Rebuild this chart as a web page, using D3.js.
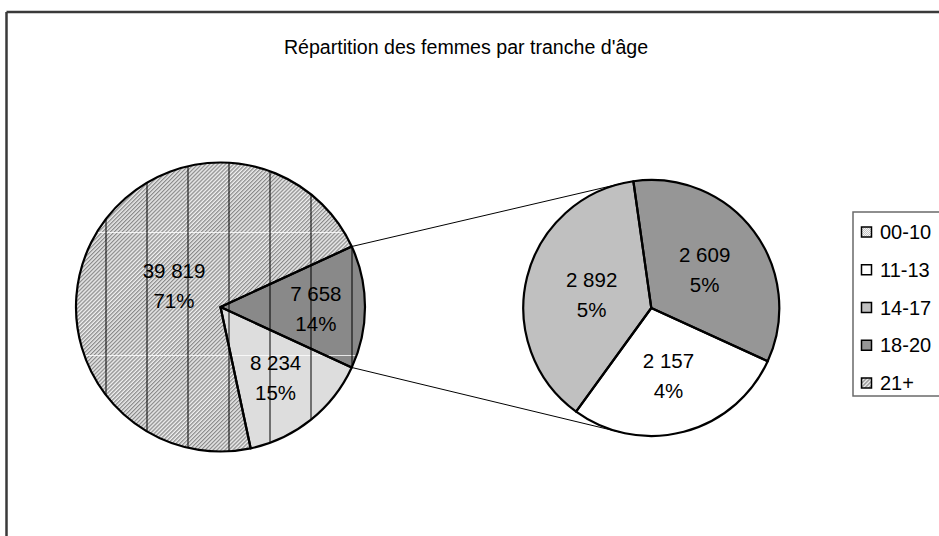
<!DOCTYPE html>
<html>
<head>
<meta charset="utf-8">
<script src="https://cdn.jsdelivr.net/npm/d3@7"></script>
<style>
  body { margin: 0; background: #fff; }
  svg { display: block; font-family: "Liberation Sans", Arial, sans-serif; }
</style>
</head>
<body>
<div id="chart"></div>
<script>
// data
const categories = ["00-10", "11-13", "14-17", "18-20", "21+"];
const values = [8234, 2157, 2892, 2609, 39819];
const secondaryCats = ["11-13", "14-17", "18-20"];
const chartTitle = "Répartition des femmes par tranche d'âge";

const width = 939, height = 536;

const fr = d3.formatLocale({decimal: ",", thousands: "\u00a0", grouping: [3], currency: ["", " €"]});
const fmtNum = fr.format(",d");

const total = d3.sum(values);
const valueOf = c => values[categories.indexOf(c)];
const otherValue = d3.sum(secondaryCats, valueOf);

// main pie : "other" slice first (centered at 3 o'clock), then the remaining points
const mainData = [{key: "other", value: otherValue}]
    .concat(categories.filter(c => !secondaryCats.includes(c)).map(c => ({key: c, value: valueOf(c)})));
const secData = secondaryCats.map(c => ({key: c, value: valueOf(c)}));

const left = {cx: 220.5, cy: 307, r: 144.5};
const right = {cx: 651.3, cy: 308, r: 128};

const otherSpan = otherValue / total * 2 * Math.PI;
const mainStart = Math.PI / 2 - otherSpan / 2;
const secStart = 2.0;

// label distance from center (fraction of radius)
const labelRadius = {"other": 0.66, "00-10": 0.61, "21+": 0.36, "11-13": 0.53, "14-17": 0.48, "18-20": 0.52};

const svg = d3.select("#chart").append("svg")
    .attr("width", width)
    .attr("height", height);

const defs = svg.append("defs");

// fine diagonal hatch for 21+
let p = defs.append("pattern").attr("id", "hatch21")
    .attr("patternUnits", "userSpaceOnUse").attr("width", 2.8).attr("height", 2.8)
    .attr("patternTransform", "rotate(45)");
p.append("rect").attr("width", 2.8).attr("height", 2.8).attr("fill", "#f0f0f0");
p.append("rect").attr("width", 1.3).attr("height", 2.8).attr("fill", "#8a8a8a");

// light checker for 00-10
p = defs.append("pattern").attr("id", "check00")
    .attr("patternUnits", "userSpaceOnUse").attr("width", 2).attr("height", 2);
p.append("rect").attr("width", 2).attr("height", 2).attr("fill", "#f6f6f6");
p.append("rect").attr("width", 1).attr("height", 1).attr("fill", "#c4c4c4");
p.append("rect").attr("x", 1).attr("y", 1).attr("width", 1).attr("height", 1).attr("fill", "#c4c4c4");

// dark checker for the "other" slice
p = defs.append("pattern").attr("id", "checkOther")
    .attr("patternUnits", "userSpaceOnUse").attr("width", 2).attr("height", 2);
p.append("rect").attr("width", 2).attr("height", 2).attr("fill", "#9a9a9a");
p.append("rect").attr("width", 1).attr("height", 1).attr("fill", "#777");
p.append("rect").attr("x", 1).attr("y", 1).attr("width", 1).attr("height", 1).attr("fill", "#777");

// tiling seams that show up over the main pie
p = defs.append("pattern").attr("id", "seams")
    .attr("patternUnits", "userSpaceOnUse").attr("width", 41).attr("height", 123)
    .attr("patternTransform", `translate(${left.cx - 130.5}, ${left.cy - 13})`);
p.append("rect").attr("x", 0).attr("y", 0).attr("width", 1).attr("height", 123).attr("fill", "#000");
p.append("rect").attr("x", 1).attr("y", 0).attr("width", 40).attr("height", 1).attr("fill", "#fff").attr("opacity", 0.8);

const fills = {
    "other": "url(#checkOther)",
    "00-10": "url(#check00)",
    "11-13": "#ffffff",
    "14-17": "#c0c0c0",
    "18-20": "#969696",
    "21+": "url(#hatch21)"
};

// outer frame (runs off the right and bottom of the picture)
const frame = svg.append("g").attr("stroke", "#3a3a3a").attr("stroke-width", 2.5);
frame.append("line").attr("x1", 6.5).attr("y1", 12).attr("x2", width).attr("y2", 12);
frame.append("line").attr("x1", 6.5).attr("y1", 12).attr("x2", 6.5).attr("y2", height);

svg.append("text")
    .attr("x", 466).attr("y", 54)
    .attr("text-anchor", "middle")
    .style("font-size", "19.6px")
    .text(chartTitle);

function drawPie(data, geo, startAngle, cls) {
    const pie = d3.pie().sort(null).value(d => d.value)
        .startAngle(startAngle).endAngle(startAngle + 2 * Math.PI);
    const arcs = pie(data);
    const arc = d3.arc().innerRadius(0).outerRadius(geo.r);
    const g = svg.append("g").attr("class", cls)
        .attr("transform", `translate(${geo.cx}, ${geo.cy})`);

    g.selectAll("path.fill").data(arcs).enter()
        .append("path").attr("class", "fill")
        .attr("d", arc)
        .attr("fill", d => fills[d.data.key]);

    if (cls === "main") {
        g.append("circle").attr("r", geo.r).attr("fill", "url(#seams)");
    }

    g.selectAll("path.edge").data(arcs).enter()
        .append("path").attr("class", "edge")
        .attr("d", arc)
        .attr("fill", "none")
        .attr("stroke", "#000")
        .attr("stroke-width", 2.2)
        .attr("stroke-linejoin", "round");

    const lab = g.selectAll("text").data(arcs).enter()
        .append("text")
        .attr("text-anchor", "middle")
        .style("font-size", "20.5px")
        .attr("transform", d => {
            const a = (d.startAngle + d.endAngle) / 2;
            const rr = geo.r * labelRadius[d.data.key];
            return `translate(${rr * Math.sin(a)}, ${-rr * Math.cos(a)})`;
        });
    lab.append("tspan").attr("x", 0).attr("y", -6).text(d => fmtNum(d.data.value));
    lab.append("tspan").attr("x", 0).attr("y", 24).text(d => Math.round(d.data.value / total * 100) + "%");
    return arcs;
}

const mainArcs = drawPie(mainData, left, mainStart, "main");
drawPie(secData, right, secStart, "secondary");

// connector lines : from the edges of the "other" slice, tangent to the second pie
const oth = mainArcs[0];
function edgePoint(a) {
    return [left.cx + left.r * Math.sin(a), left.cy - left.r * Math.cos(a)];
}
function tangent(P, upper) {
    const dx = P[0] - right.cx, dy = P[1] - right.cy;
    const d = Math.hypot(dx, dy);
    const base = Math.atan2(dy, dx);
    const off = Math.acos(right.r / d);
    const t = upper ? base + off : base - off;
    return [right.cx + right.r * Math.cos(t), right.cy + right.r * Math.sin(t)];
}
const p1 = edgePoint(oth.startAngle), p2 = edgePoint(oth.endAngle);
const lines = [[p1, tangent(p1, true)], [p2, tangent(p2, false)]];
svg.append("g").selectAll("line").data(lines).enter()
    .append("line")
    .attr("x1", d => d[0][0]).attr("y1", d => d[0][1])
    .attr("x2", d => d[1][0]).attr("y2", d => d[1][1])
    .attr("stroke", "#000").attr("stroke-width", 1);

// legend
const legend = svg.append("g").attr("transform", "translate(853, 212)");
legend.append("rect")
    .attr("width", 120).attr("height", 184)
    .attr("fill", "#fff").attr("stroke", "#6a6a6a").attr("stroke-width", 1.5);

const ly = d3.scalePoint().domain(categories).range([20, 171]);
const items = legend.selectAll("g.item").data(categories).enter()
    .append("g").attr("class", "item")
    .attr("transform", d => `translate(0, ${ly(d)})`);
items.append("rect")
    .attr("x", 8.5).attr("y", -5).attr("width", 10).attr("height", 10)
    .attr("fill", d => fills[d])
    .attr("stroke", "#000").attr("stroke-width", 1.5);
items.append("text")
    .attr("x", 27).attr("y", 7)
    .style("font-size", "20px")
    .text(d => d);
</script>
</body>
</html>
